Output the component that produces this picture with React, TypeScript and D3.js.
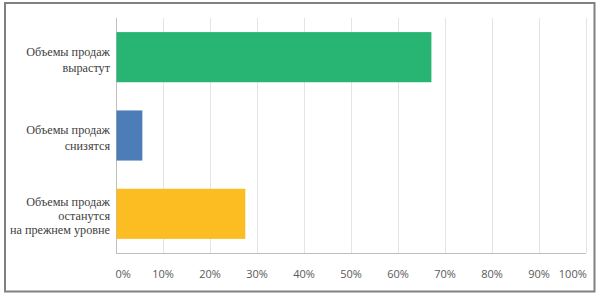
import React from "react";
import * as d3 from "d3";

const categories: string[][] = [
  ["Объемы продаж", "вырастут"],
  ["Объемы продаж", "снизятся"],
  ["Объемы продаж", "останутся", "на прежнем уровне"],
];
const values: number[] = [67, 5.5, 27.4];
const colors: string[] = ["#28b473", "#4d7db8", "#fbbd22"];
const ticks: number[] = [0, 10, 20, 30, 40, 50, 60, 70, 80, 90, 100];

export default function App() {
  const W = 600;
  const H = 296;
  const left = 116;
  const right = 586;
  const top = 18;
  const bottom = 253;

  const x = d3.scaleLinear().domain([0, 100]).range([left, right]);
  const y = d3
    .scaleBand<number>()
    .domain(categories.map((_, i) => i))
    .range([top, bottom])
    .paddingInner(0.36)
    .paddingOuter(0.18);

  const tickFont = "'Open Sans', 'Noto Sans', sans-serif";
  const labelFont = "'Liberation Serif', 'Times New Roman', serif";

  return (
    <svg
      width={W}
      height={H}
      style={{ position: "absolute", left: 0, top: 0, background: "#fff" }}
    >
      <rect x={0} y={0} width={W} height={H} fill="#fff" />
      <rect
        x={5}
        y={3}
        width={589.5}
        height={288.5}
        fill="none"
        stroke="#808080"
        strokeWidth={2}
      />
      {ticks.map((t) => (
        <line
          key={"g" + t}
          x1={Math.round(x(t)) + 0.5}
          x2={Math.round(x(t)) + 0.5}
          y1={top}
          y2={bottom}
          stroke={t === 0 ? "#bfbfbf" : "#e4e4e4"}
          strokeWidth={1}
        />
      ))}
      <line
        x1={left}
        x2={right}
        y1={bottom + 0.5}
        y2={bottom + 0.5}
        stroke="#bfbfbf"
        strokeWidth={1}
      />
      {values.map((v, i) => (
        <rect
          key={"b" + i}
          x={x(0) + 0.5}
          y={y(i)!}
          width={x(v) - x(0)}
          height={y.bandwidth()}
          fill={colors[i]}
        />
      ))}
      {categories.map((lines, i) => {
        const cy = y(i)! + y.bandwidth() / 2 + 2.5;
        const step = lines.length > 2 ? 14 : 16;
        const start = cy - ((lines.length - 1) * step) / 2;
        return (
          <text
            key={"l" + i}
            fontFamily={labelFont}
            fontSize={12.2}
            fill="#404040"
            textAnchor="end"
          >
            {lines.map((ln, j) => (
              <tspan
                key={j}
                x={110}
                y={start + j * step}
                dominantBaseline="central"
              >
                {ln}
              </tspan>
            ))}
          </text>
        );
      })}
      {ticks.map((t) => {
        const label = t + "%";
        const wEst = label.length * 6.6;
        let cx = x(t);
        cx = Math.max(left + 0.5 + wEst / 2, Math.min(right - wEst / 2, cx));
        return (
          <text
            key={"t" + t}
            x={cx}
            y={273}
            fontFamily={tickFont}
            fontSize={11}
            fill="#595959"
            textAnchor="middle"
            dominantBaseline="central"
          >
            {label}
          </text>
        );
      })}
    </svg>
  );
}
